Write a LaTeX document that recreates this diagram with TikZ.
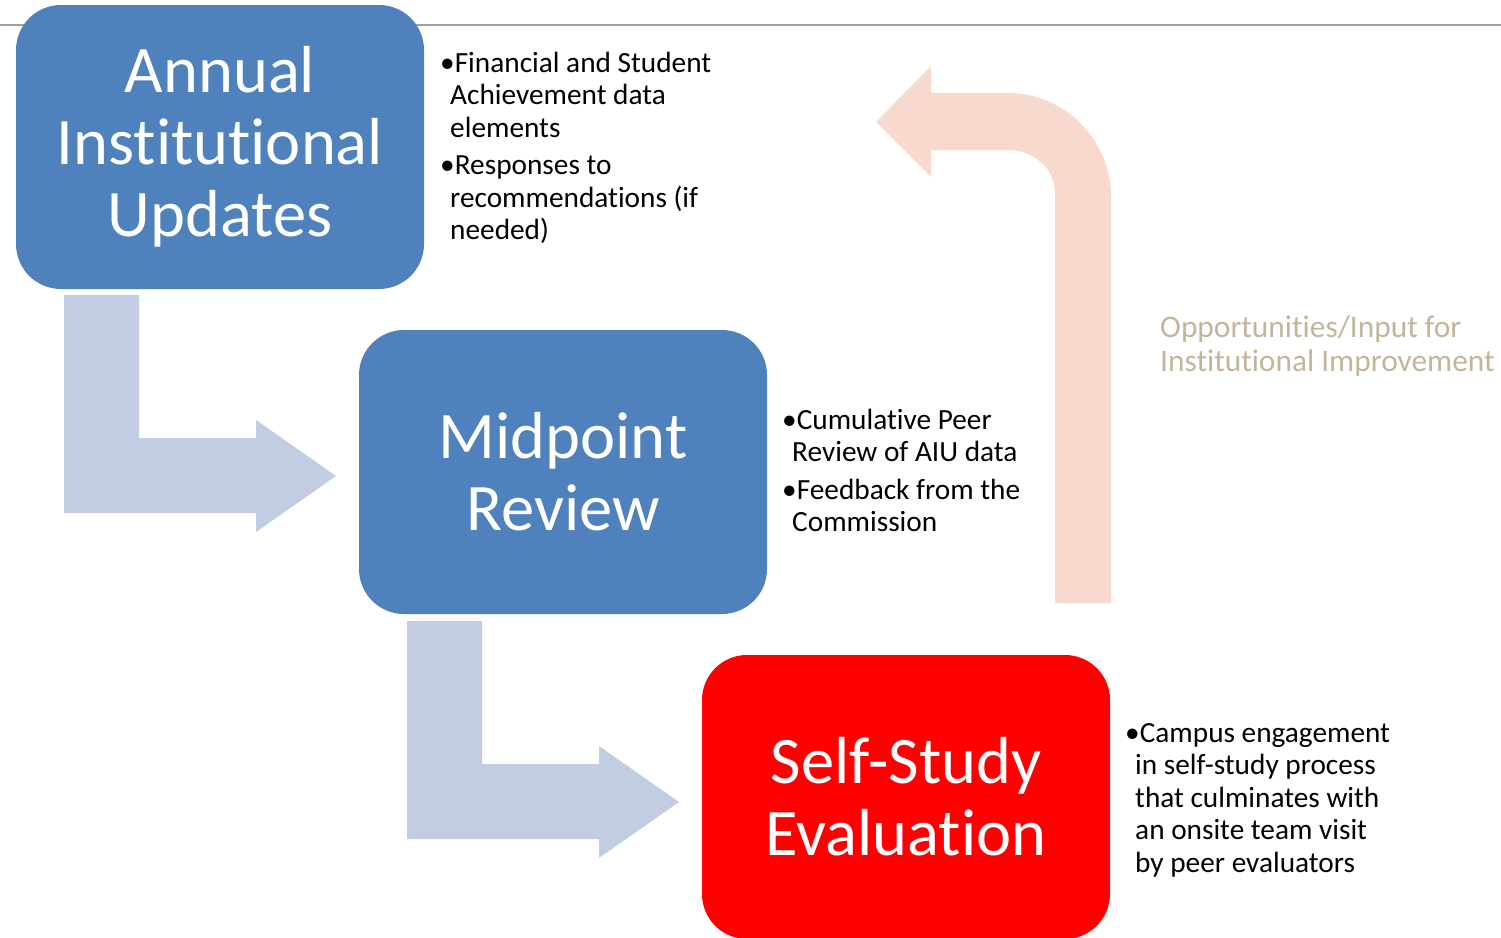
\documentclass[tikz,border=0pt]{standalone}
\usepackage{fontspec}
\setmainfont{Carlito}[Ligatures={NoCommon,NoContextual}]
\definecolor{boxblue}{HTML}{4F81BD}
\definecolor{arrowblue}{HTML}{C3CDE2}
\definecolor{peach}{HTML}{F8D9CD}
\definecolor{tan}{HTML}{C4B59A}
\definecolor{linegray}{HTML}{A0A0A0}
\tikzset{
  bigbox/.style={rectangle, rounded corners=45pt, minimum width=408pt, minimum height=284pt,
    text=white, align=center, inner sep=0pt, font=\fontsize{66.5}{72}\selectfont},
  note/.style={anchor=north west, align=left, inner sep=0pt, text=black,
    font=\fontsize{29.3}{32.5}\selectfont},
  blockarrow/.style={fill=arrowblue, draw=none},
}
\begin{document}
\begin{tikzpicture}[x=1pt,y=-1pt]
\useasboundingbox (0,0) rectangle (1501,937);
\clip (0,0) rectangle (1501,937);
\fill[white] (0,0) rectangle (1501,937);
% top rule
\coordinate (tl) at (0,25);
\coordinate (tr) at (1501,25);
\draw[linegray, line width=1.5pt] (tl) -- (tr);
% blue bent arrows
\fill[blockarrow] (64,295) -- (139,295) -- (139,438) -- (256,438) -- (256,420) -- (336,476)
  -- (256,532) -- (256,513) -- (64,513) -- cycle;
\fill[blockarrow, shift={(343pt,-326pt)}] (64,295) -- (139,295) -- (139,438) -- (256,438) -- (256,420) -- (336,476)
  -- (256,532) -- (256,513) -- (64,513) -- cycle;
% peach return arrow
\fill[peach] (1111,603) -- (1111,197) .. controls (1111,140) and (1065,93) .. (1008,93)
  -- (931,93) -- (931,66) -- (876,122) -- (931,177) -- (931,150) -- (1008,150)
  .. controls (1033,150) and (1055,168) .. (1055,193) -- (1055,603) -- cycle;
% boxes
\node[bigbox, fill=boxblue] (aiu) at (220,147) {Annual\\Institutional\\Updates};
\node[bigbox, fill=boxblue] (mid) at (563,472) {Midpoint\\Review};
\node[bigbox, fill=red] (sse) at (906,797) {Self-Study\\Evaluation};
% notes
\node[note] (n1) at (440,48) {\rule{0pt}{24pt}•Financial and Student\\
  \hspace*{10pt}Achievement data\\
  \hspace*{10pt}elements\\[5pt]
  •Responses to\\
  \hspace*{10pt}recommendations (if\\
  \hspace*{10pt}needed)};
\node[note] (n2) at (782,405) {\rule{0pt}{24pt}•Cumulative Peer\\
  \hspace*{10pt}Review of AIU data\\[5pt]
  •Feedback from the\\
  \hspace*{10pt}Commission};
\node[note] (n3) at (1125,718) {\rule{0pt}{24pt}•Campus engagement\\
  \hspace*{10pt}in self-study process\\
  \hspace*{10pt}that culminates with\\
  \hspace*{10pt}an onsite team visit\\
  \hspace*{10pt}by peer evaluators};
\node[anchor=north west, align=left, inner sep=0pt, text=tan, font=\fontsize{31.4}{34}\selectfont]
  (opp) at (1160,311) {\rule{0pt}{26pt}Opportunities/Input for\\Institutional Improvement};
\end{tikzpicture}
\end{document}
